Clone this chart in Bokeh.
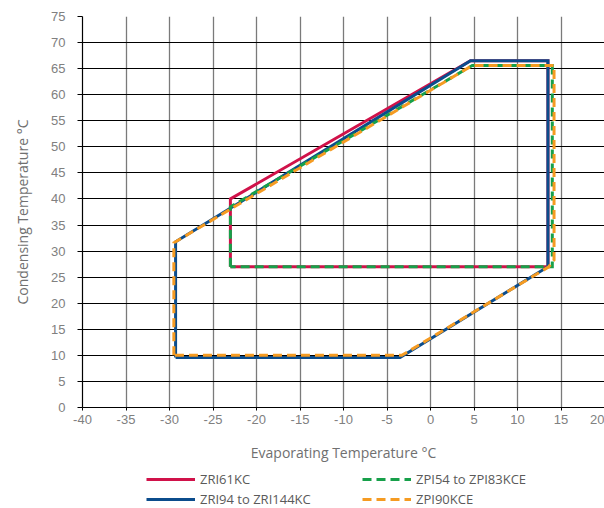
from bokeh.plotting import figure
from bokeh.layouts import column
from bokeh.models import Range1d, FixedTicker, Legend, LegendItem, PrintfTickFormatter
from bokeh.embed import file_html
from bokeh.resources import INLINE

# Data
x_ticks = list(range(-40, 25, 5))
y_ticks = list(range(0, 80, 5))

evap_zri61 = [-23, -23, 4.6, 13.5, 13.5, -23]
cond_zri61 = [27, 40, 66.5, 66.5, 27, 27]

evap_zri94 = [-29.3, -29.3, 4.6, 13.5, 13.5, -3.5, -29.3]
cond_zri94 = [9.6, 31.8, 66.5, 66.5, 27, 9.6, 9.6]

evap_zpi54 = [-23, -23, 4.8, 14.0, 14.0, -23]
cond_zpi54 = [27, 38.5, 65.6, 65.6, 27, 27]

evap_zpi90 = [-29.5, -29.5, 4.8, 14.2, 14.2, 13.6, -3.3, -29.5]
cond_zpi90 = [10.0, 31.6, 65.6, 65.6, 28.3, 27, 10.0, 10.0]

labels = ["ZRI61KC", "ZRI94 to ZRI144KC", "ZPI54 to ZPI83KCE", "ZPI90KCE"]
colors = ["#d0124a", "#0b4c8c", "#17a04a", "#f59b22"]
dashes = ["solid", "solid", "9 5", "9 5"]

series = [(evap_zri61, cond_zri61), (evap_zri94, cond_zri94),
          (evap_zpi54, cond_zpi54), (evap_zpi90, cond_zpi90)]

p = figure(width=604, height=464, output_backend="svg", toolbar_location=None,
           x_range=Range1d(-40, 20), y_range=Range1d(0, 75),
           min_border_left=82, min_border_top=16, min_border_bottom=56,
           min_border_right=0)
p.outline_line_color = None
p.background_fill_color = "white"

p.xaxis.ticker = FixedTicker(ticks=x_ticks)
p.yaxis.ticker = FixedTicker(ticks=y_ticks)
p.xaxis.formatter = PrintfTickFormatter(format="%d")
p.yaxis.formatter = PrintfTickFormatter(format="%d")

for ax in (p.xaxis[0], p.yaxis[0]):
    ax.axis_line_color = "black"
    ax.axis_line_width = 1.2
    ax.major_tick_line_color = "black"
    ax.minor_tick_line_color = None
    ax.major_tick_in = 0
    ax.major_label_text_font = "Liberation Sans"
    ax.major_label_text_font_size = "13px"
    ax.major_label_text_color = "#808080"
    ax.axis_label_text_font = "Open Sans"
    ax.axis_label_text_font_size = "14px"
    ax.axis_label_text_font_style = "normal"
    ax.axis_label_text_color = "#707070"

p.yaxis.major_tick_out = 5
p.xaxis.major_tick_out = 3
p.yaxis.major_label_standoff = 12
p.xaxis.major_label_standoff = 4
p.yaxis.axis_label = "Condensing Temperature °C"
p.xaxis.axis_label = "Evaporating Temperature °C"
p.yaxis.axis_label_standoff = 16
p.xaxis.axis_label_standoff = 16

p.xgrid.ticker = FixedTicker(ticks=x_ticks)
p.ygrid.ticker = FixedTicker(ticks=y_ticks)
p.xgrid.grid_line_color = "#7a7a7a"
p.xgrid.grid_line_width = 1.3
p.ygrid.grid_line_color = "black"
p.ygrid.grid_line_width = 1

for (xs, ys), c, d in zip(series, colors, dashes):
    p.line(xs, ys, line_color=c, line_width=3, line_dash=d, line_join="miter")

# Legend strip below the chart (its lines lie outside its view, only the legend shows)
lg = figure(width=604, height=44, output_backend="svg", toolbar_location=None,
            x_range=Range1d(0, 1), y_range=Range1d(-2, -1),
            x_axis_location=None, y_axis_location=None,
            min_border_left=0, min_border_right=0, min_border_top=0, min_border_bottom=0)
lg.outline_line_color = None
lg.xgrid.visible = False
lg.ygrid.visible = False
rs = [lg.line(xs, ys, line_color=c, line_width=3, line_dash=d)
      for (xs, ys), c, d in zip(series, colors, dashes)]

# row-wise fill: row 1 = ZRI61KC, ZPI54..; row 2 = ZRI94.., ZPI90KCE
legend = Legend(items=[LegendItem(label=labels[0], renderers=[rs[0]]),
                       LegendItem(label=labels[2], renderers=[rs[2]]),
                       LegendItem(label=labels[1], renderers=[rs[1]]),
                       LegendItem(label=labels[3], renderers=[rs[3]])],
                orientation="horizontal", ncols=2,
                location=(64, -1),
                glyph_width=49, glyph_height=20, label_standoff=5,
                label_width=162, label_height=20, spacing=0, padding=0, margin=0,
                label_text_font="Open Sans", label_text_font_size="13px",
                label_text_color="#5a5a5a",
                border_line_color=None, background_fill_alpha=0)
lg.add_layout(legend, "center")

layout = column(p, lg, spacing=0)
open("out.html", "w").write(file_html(layout, INLINE))
